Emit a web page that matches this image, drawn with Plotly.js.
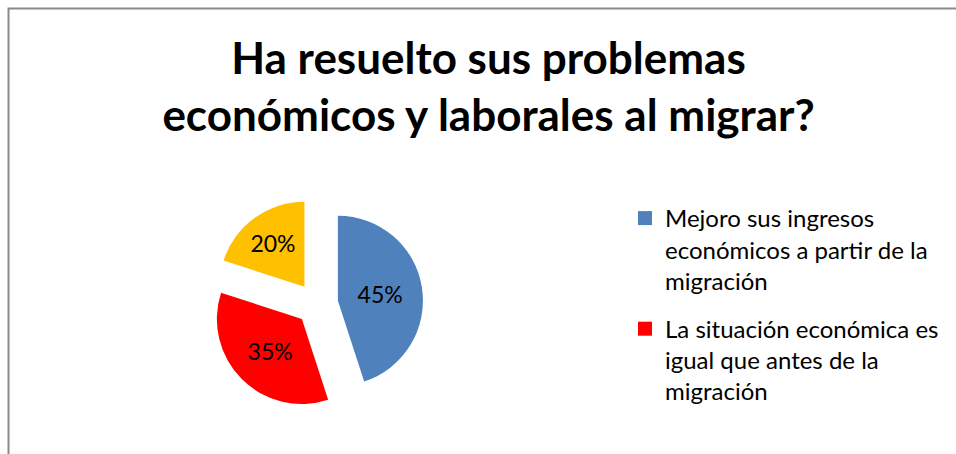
<!DOCTYPE html>
<html>
<head>
<meta charset="utf-8">
<script src="https://cdn.plot.ly/plotly-3.0.1.min.js"></script>
<style>html,body{margin:0;padding:0;background:#fff;}#chart{width:956px;height:454px;}</style>
</head>
<body>
<div id="chart"></div>
<script>
const categories = [
  "Mejoro sus ingresos económicos a partir de la migración",
  "La situación económica es igual que antes de la migración",
  "Su situación económica empeoró con la migración"
];
const legendLabels = [
  "Mejoro sus ingresos<br>económicos a partir de la<br>migración",
  "La situación económica es<br>igual que antes de la<br>migración"
];
const values = [45, 35, 20];
const sliceColors = ["#4F81BD", "#FF0000", "#FFC000"];
const titleText = "Ha resuelto sus problemas<br>económicos y laborales al migrar?";

const FONT = "Lato, 'Open Sans', sans-serif";

const pie = {
  type: "pie",
  labels: categories,
  values: values,
  sort: false,
  direction: "clockwise",
  rotation: 0,
  pull: values.map(() => 0.25),
  marker: { colors: sliceColors, line: { width: 0 } },
  textinfo: "percent",
  textposition: "inside",
  insidetextorientation: "horizontal",
  textfont: { family: FONT, size: 23, color: "#000" },
  domain: { x: [0.175, 0.488], y: [0.0964, 0.5645] },
  showlegend: false,
  hoverinfo: "label+percent"
};

const legendTraces = legendLabels.map((lab, i) => ({
  type: "scatter",
  mode: "markers",
  x: [null],
  y: [null],
  name: lab,
  legendgroup: "g" + i,
  marker: { symbol: "square", size: 14, color: sliceColors[i] },
  showlegend: true,
  hoverinfo: "skip"
}));

const layout = {
  width: 956,
  height: 454,
  margin: { l: 0, r: 0, t: 0, b: 0 },
  paper_bgcolor: "#fff",
  plot_bgcolor: "rgba(0,0,0,0)",
  font: { family: FONT, color: "#000" },
  title: {
    text: titleText,
    font: { family: FONT, size: 44, weight: "bold", color: "#000" },
    x: 0.511,
    xanchor: "center",
    y: 1 - 74 / 454,
    yanchor: "top",
    yref: "container"
  },
  xaxis: { visible: false },
  yaxis: { visible: false },
  showlegend: true,
  legend: {
    x: 625 / 956,
    xanchor: "left",
    y: 1 - 196 / 454,
    yanchor: "top",
    valign: "top",
    traceorder: "grouped",
    tracegroupgap: 14,
    font: { family: FONT, size: 24, color: "#000" },
    bgcolor: "rgba(0,0,0,0)"
  },
  shapes: [{
    type: "rect",
    xref: "paper", yref: "paper",
    x0: 8.5 / 956, x1: 1.02,
    y0: -0.02, y1: 1 - 8.5 / 454,
    line: { color: "#8A8A8A", width: 2 },
    fillcolor: "rgba(0,0,0,0)",
    layer: "above"
  }]
};

Plotly.newPlot("chart", [pie, ...legendTraces], layout, { displayModeBar: false, staticPlot: true });
</script>
</body>
</html>
